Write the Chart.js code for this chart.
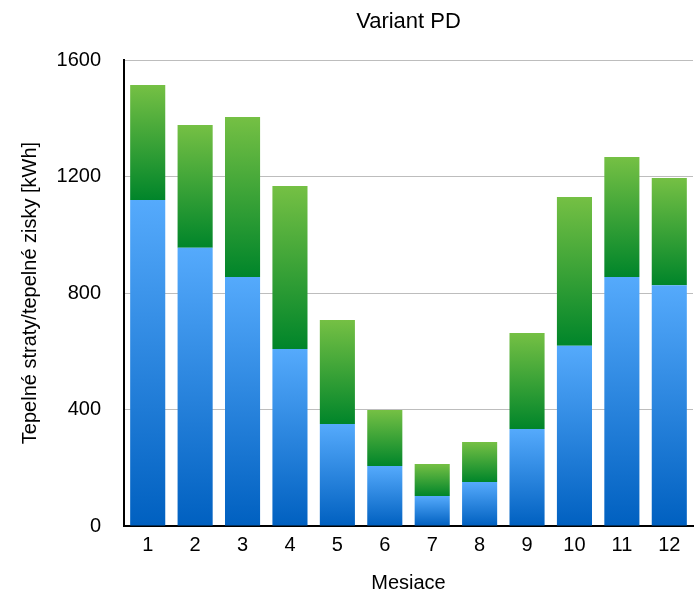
<!DOCTYPE html>
<html>
<head>
<meta charset="utf-8">
<script src="https://cdn.jsdelivr.net/npm/chart.js@4/dist/chart.umd.min.js"></script>
<style>
  html, body { margin: 0; padding: 0; background: #ffffff; }
  canvas { display: block; }
</style>
</head>
<body>
<canvas id="c" width="699" height="597"></canvas>
<script>
// Categories (months)
const months = ['1', '2', '3', '4', '5', '6', '7', '8', '9', '10', '11', '12'];
// Lower (blue) segment values [kWh]
const blueValues = [1119, 955, 855, 608, 350, 206, 103, 151, 333, 619, 855, 827];
// Upper (green) segment values [kWh]
const greenValues = [395, 422, 549, 559, 357, 192, 110, 137, 330, 511, 412, 368];
// Y axis ticks
const yTicks = [0, 400, 800, 1200, 1600];

const FONT = '"Liberation Sans", Arial, Helvetica, sans-serif';

function segmentGradient(ctx, startArr, endArr, bottomColor, topColor) {
  const chart = ctx.chart;
  if (ctx.type !== 'data' || !chart.chartArea || !chart.scales || !chart.scales.y) return topColor;
  const i = ctx.dataIndex;
  const yScale = chart.scales.y;
  const y0 = yScale.getPixelForValue(startArr(i));
  const y1 = yScale.getPixelForValue(endArr(i));
  if (!isFinite(y0) || !isFinite(y1) || y0 === y1) return topColor;
  const g = chart.ctx.createLinearGradient(0, y0, 0, y1);
  g.addColorStop(0, bottomColor);
  g.addColorStop(1, topColor);
  return g;
}

new Chart(document.getElementById('c'), {
  type: 'bar',
  data: {
    labels: months,
    datasets: [
      {
        label: 'Spodná časť',
        data: blueValues,
        backgroundColor: (ctx) => segmentGradient(ctx, () => 0, (i) => blueValues[i], '#0060C0', '#55AAFC'),
        borderWidth: 0,
        categoryPercentage: 1,
        barPercentage: 0.74
      },
      {
        label: 'Horná časť',
        data: greenValues,
        backgroundColor: (ctx) => segmentGradient(ctx, (i) => blueValues[i], (i) => blueValues[i] + greenValues[i], '#00852A', '#75C044'),
        borderWidth: 0,
        categoryPercentage: 1,
        barPercentage: 0.74
      }
    ]
  },
  options: {
    responsive: false,
    devicePixelRatio: 1,
    animation: false,
    layout: { padding: { left: 0, right: 6, top: 0, bottom: 0 } },
    plugins: {
      legend: { display: false },
      tooltip: { enabled: false },
      title: {
        display: true,
        text: 'Variant PD',
        fullSize: false,
        color: '#000000',
        font: { family: FONT, size: 22, weight: 'normal' },
        padding: { top: 8.5, bottom: 25.1 }
      }
    },
    scales: {
      x: {
        stacked: true,
        grid: { display: false, drawTicks: false },
        border: { display: true, color: '#000000', width: 2 },
        ticks: { color: '#000000', font: { family: FONT, size: 20 }, padding: 7, maxRotation: 0 },
        title: {
          display: true,
          text: 'Mesiace',
          color: '#000000',
          font: { family: FONT, size: 20 },
          padding: { top: 2, bottom: 2 }
        },
        afterFit: (scale) => { scale.height = 71; }
      },
      y: {
        stacked: true,
        min: 0,
        max: 1600,
        afterBuildTicks: (scale) => { scale.ticks = yTicks.map(v => ({ value: v })); },
        grid: { color: '#bdbdbd', lineWidth: 1, drawTicks: false },
        border: { display: true, color: '#000000', width: 2 },
        ticks: {
          color: '#000000',
          font: { family: FONT, size: 20 },
          padding: 23,
          callback: (value) => String(value)
        },
        title: {
          display: true,
          text: 'Tepelné straty/tepelné zisky [kWh]',
          color: '#000000',
          font: { family: FONT, size: 20 },
          padding: { top: 18.8, bottom: 0 }
        },
        afterFit: (scale) => { scale.width = 124; }
      }
    }
  }
});
</script>
</body>
</html>
